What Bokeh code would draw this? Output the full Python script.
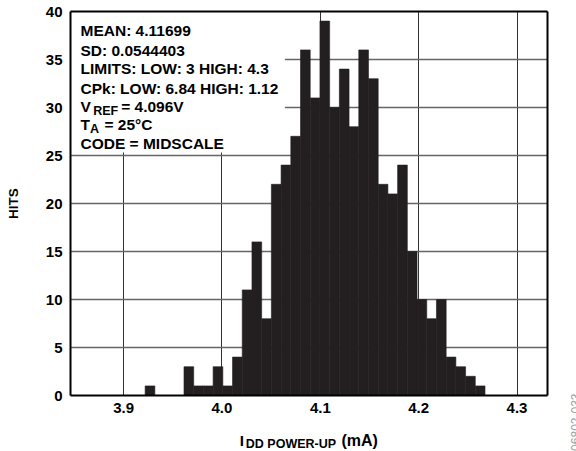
import numpy as np
from bokeh.plotting import figure
from bokeh.models import Range1d, Label, BoxAnnotation, LinearAxis
from bokeh.layouts import row, column
from bokeh.embed import file_html
from bokeh.resources import INLINE

# ---- data ----
bin_start = 3.9219          # left edge of first histogram bin (mA)
bin_width = 0.009873        # bin width (mA)
hits = [1, 0, 0, 0, 3, 1, 1, 3, 1, 4, 11, 16, 8, 22, 24, 27, 36, 31, 39, 30,
        34, 28, 36, 33, 22, 21, 24, 15, 10, 8, 10, 4, 3, 2, 1]
x_ticks = [3.9, 4.0, 4.1, 4.2, 4.3]
x_tick_labels = ["3.9", "4.0", "4.1", "4.2", "4.3"]
y_ticks = [0, 5, 10, 15, 20, 25, 30, 35, 40]
stats_lines = ["MEAN: 4.11699", "SD: 0.0544403", "LIMITS: LOW: 3 HIGH: 4.3",
               "CPk: LOW: 6.84 HIGH: 1.12"]
vref_text = ("V", "REF", "= 4.096V")
ta_text = ("T", "A", "= 25°C")
code_text = "CODE = MIDSCALE"
x_label = ("I", "DD POWER-UP", "(mA)")
y_label = "HITS"
fig_id = "06802-033"

edges = bin_start + bin_width * np.arange(len(hits) + 1)

FONT = "Liberation Sans"
INK = "#231f20"

p = figure(width=566, height=425, output_backend="svg", toolbar_location=None,
           x_range=Range1d(3.846, 4.331), y_range=Range1d(0, 40),
           min_border_left=70, min_border_right=19, min_border_top=11,
           min_border_bottom=30)

p.background_fill_color = "white"
p.border_fill_color = "white"
p.outline_line_color = None

bottom_ax = p.below[0]
left_ax = p.left[0]
# frame border drawn by axis lines on all four sides
top_ax = LinearAxis(ticker=[], major_label_text_font_size="0px",
                    major_label_standoff=0)
right_ax = LinearAxis(ticker=[], major_label_text_font_size="0px",
                      major_label_standoff=0)
p.add_layout(top_ax, "above")
p.add_layout(right_ax, "right")

bottom_ax.ticker = x_ticks
bottom_ax.major_label_overrides = {t: l for t, l in zip(x_ticks, x_tick_labels)}
left_ax.ticker = y_ticks
for ax in (bottom_ax, left_ax, top_ax, right_ax):
    ax.axis_line_color = "black"
    ax.axis_line_width = 2
    ax.major_tick_line_color = None
    ax.minor_tick_line_color = None
    ax.major_tick_out = 0
    ax.major_tick_in = 0
    ax.minor_tick_out = 0
    ax.minor_tick_in = 0
for ax in (bottom_ax, left_ax):
    ax.major_label_text_font = FONT
    ax.major_label_text_font_style = "bold"
    ax.major_label_text_color = "black"
    ax.major_label_text_font_size = "15px"
left_ax.major_label_standoff = 8
bottom_ax.major_label_standoff = 7

left_ax.axis_label = y_label
left_ax.axis_label_text_font = FONT
left_ax.axis_label_text_font_style = "bold"
left_ax.axis_label_text_font_size = "13.5px"
left_ax.axis_label_text_color = "black"
left_ax.axis_label_standoff = 22

p.xgrid.grid_line_color = "#333333"
p.xgrid.grid_line_width = 1
p.ygrid.grid_line_color = "#666666"
p.ygrid.grid_line_width = 1.3

# white panel behind the statistics text
p.add_layout(BoxAnnotation(right=4.064, bottom=25.3, fill_color="white",
                           fill_alpha=1, line_color=None, level="underlay"))

p.quad(left=edges[:-1], right=edges[1:], top=hits, bottom=0,
       fill_color=INK, line_color=INK, line_width=0.6)


def lab(fig, text, x, y, size, **kw):
    opts = dict(x=x, y=y, x_units="screen", y_units="screen", text=text,
                text_font=FONT, text_font_style="bold", text_font_size=size,
                text_color="black", text_baseline="alphabetic")
    opts.update(kw)
    fig.add_layout(Label(**opts))


MAIN = "15.5px"
SUB = "12.5px"
baselines = [365.0, 345.5, 326.7, 307.5, 289.0, 270.8, 252.0]
for txt, yb in zip(stats_lines, baselines[:4]):
    lab(p, txt, 10, yb, MAIN)
lab(p, vref_text[0], 10, baselines[4], MAIN)
lab(p, vref_text[1], 22.7, baselines[4] - 4.5, SUB)
lab(p, vref_text[2], 50.7, baselines[4], MAIN)
lab(p, ta_text[0], 10, baselines[5], MAIN)
lab(p, ta_text[1], 19.5, baselines[5] - 4.5, SUB)
lab(p, ta_text[2], 34, baselines[5], MAIN)
lab(p, code_text, 10, baselines[6], MAIN)


def strip(w, h):
    f = figure(width=w, height=h, output_backend="svg", toolbar_location=None,
               x_axis_type=None, y_axis_type=None, min_border=0,
               x_range=Range1d(0, 1), y_range=Range1d(0, 1))
    f.outline_line_color = None
    f.grid.visible = False
    f.background_fill_color = "white"
    f.border_fill_color = "white"
    return f


# x axis label strip (below the plot); its frame is aligned with the plot frame
xl = strip(566, 26)
lab(xl, x_label[0], 169.3, 10.7, "15px")
lab(xl, x_label[1], 175.3, 7.3, SUB)
lab(xl, x_label[2], 271.0, 10.7, "16px")

# narrow strip on the right with the figure id
idf = strip(10, 451)
lab(idf, fig_id, 8.5, 58, "12px", angle=np.pi / 2, text_align="right",
    text_baseline="middle", text_color="#a0a0a0", text_font_style="normal")

layout = row(column(p, xl, spacing=0), idf, spacing=0)

open("out.html", "w").write(file_html(layout, INLINE))
